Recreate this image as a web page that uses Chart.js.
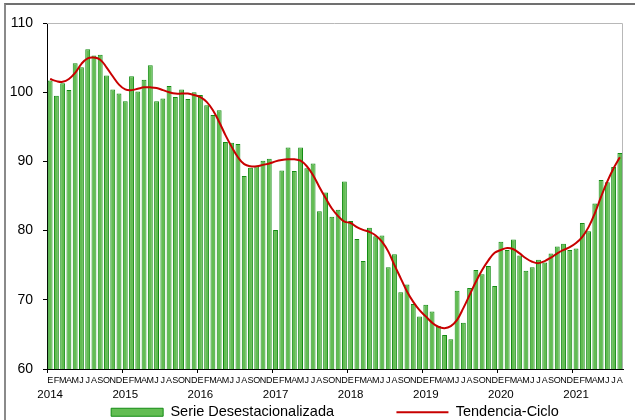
<!DOCTYPE html>
<html><head><meta charset="utf-8">
<script src="https://cdn.jsdelivr.net/npm/chart.js@4"></script>
<style>
html,body{margin:0;padding:0;background:#fff;overflow:hidden;}
#wrap{position:relative;width:635px;height:420px;overflow:hidden;}
#frame{position:absolute;left:4px;top:3px;width:660px;height:440px;border-left:2px solid #8a8a8a;border-top:2px solid #707070;}
canvas{position:absolute;left:0;top:0;}
</style></head><body>
<div id="wrap"><div id="frame"></div><canvas id="c" width="635" height="420"></canvas></div>
<script>
const monthLetters = ['E','F','M','A','M','J','J','A','S','O','N','D'];
const years = ['2014','2015','2016','2017','2018','2019','2020','2021'];
const yTicks = [60, 70, 80, 90, 100, 110];

const serieDesestacionalizada = [
  101.7, 99.5, 101.3, 100.3, 104.2, 103.6, 106.2, 105.3, 105.4, 102.4, 100.4, 99.8,
  98.7, 102.3, 100.1, 101.8, 103.9, 98.7, 99.1, 100.9, 99.3, 100.4, 99.0, 100.0,
  99.6, 98.1, 96.7, 97.4, 92.8, 92.7, 92.5, 87.9, 89.1, 89.3, 90.1, 90.4,
  80.1, 88.7, 92.0, 88.6, 92.0, 89.0, 89.7, 82.8, 85.5, 82.0, 83.0, 87.1,
  81.4, 78.8, 75.6, 80.4, 79.2, 79.3, 74.7, 76.6, 71.1, 72.2, 69.4, 67.6,
  69.3, 68.3, 66.2, 64.9, 64.3, 71.3, 66.7, 71.7, 74.3, 73.7, 74.9, 72.0,
  78.4, 77.2, 78.7, 76.4, 74.2, 74.7, 75.8, 75.4, 76.7, 77.7, 78.1, 77.2,
  77.4, 81.1, 79.9, 83.9, 87.3, 87.0, 89.2, 91.2
];
const tendenciaCiclo = [
  101.9, 101.6, 101.5, 101.9, 102.8, 104.1, 104.9, 105.0, 104.7, 103.6, 102.3, 101.1,
  100.4, 100.3, 100.5, 100.7, 100.7, 100.6, 100.3, 100.0, 99.8, 99.8, 99.8, 99.6,
  99.3, 98.6, 97.4, 95.7, 93.8, 92.1, 90.6, 89.6, 89.3, 89.3, 89.5, 89.7,
  90.0, 90.2, 90.3, 90.3, 90.1, 89.3, 88.0, 86.3, 84.7, 83.2, 82.1, 81.3,
  81.1, 80.5, 80.1, 79.8, 79.3, 78.4, 77.0, 75.0, 73.1, 71.2, 69.7, 68.5,
  67.6, 66.7, 66.1, 65.9, 66.2, 67.1, 68.8, 70.7, 72.6, 74.3, 75.7, 76.8,
  77.2, 77.5, 77.3, 76.7, 76.0, 75.5, 75.3, 75.6, 76.1, 76.7, 77.2, 77.6,
  78.2, 79.1, 80.5, 82.5, 84.9, 87.1, 89.0, 90.6
];

const categories = serieDesestacionalizada.map((v, i) => monthLetters[i % 12]);
const yearLabels = serieDesestacionalizada.map((v, i) => (i % 12 === 0 ? years[i / 12] : ''));

const FONT = "'Liberation Sans', Arial, sans-serif";

const plotBorder = {
  id: 'plotBorder',
  beforeDatasetsDraw(chart) {
    const { ctx, chartArea: a } = chart;
    ctx.save();
    ctx.strokeStyle = '#b8b8b8';
    ctx.lineWidth = 1;
    ctx.beginPath();
    ctx.moveTo(a.left, a.top + 0.5);
    ctx.lineTo(a.right - 0.5, a.top + 0.5);
    ctx.lineTo(a.right - 0.5, a.bottom);
    ctx.stroke();
    ctx.restore();
  }
};

new Chart(document.getElementById('c'), {
  data: {
    labels: categories,
    datasets: [
      {
        type: 'line',
        label: 'Tendencia-Ciclo',
        data: tendenciaCiclo,
        borderColor: '#c80000',
        backgroundColor: '#c80000',
        borderWidth: 2,
        pointRadius: 0,
        tension: 0.4,
        order: 0
      },
      {
        type: 'bar',
        label: 'Serie Desestacionalizada',
        data: serieDesestacionalizada,
        backgroundColor: '#63bd53',
        borderColor: '#148c14',
        borderWidth: 1,
        categoryPercentage: 1.0,
        barPercentage: 0.78,
        order: 1
      }
    ]
  },
  options: {
    responsive: false,
    animation: false,
    layout: { padding: { left: 0, top: 23, right: 12, bottom: 0 } },
    plugins: {
      tooltip: { enabled: false },
      legend: {
        position: 'bottom',
        fullSize: false,
        maxHeight: 17,
        labels: {
          usePointStyle: true,
          pointStyleWidth: 52,
          boxHeight: 8,
          padding: 2,
          color: '#000',
          font: { size: 14.5, family: FONT },
          sort: (a, b) => b.datasetIndex - a.datasetIndex,
          generateLabels(chart) {
            return chart.data.datasets.map((ds, i) => {
              const isBar = ds.type === 'bar';
              return {
                text: isBar ? ds.label + '\u00a0'.repeat(15) : ds.label,
                fillStyle: ds.backgroundColor,
                strokeStyle: ds.borderColor,
                lineWidth: isBar ? 1 : 2,
                pointStyle: isBar ? 'rect' : 'line',
                hidden: false,
                fontColor: '#000',
                datasetIndex: i
              };
            });
          }
        }
      }
    },
    scales: {
      x: {
        type: 'category',
        offset: true,
        grid: {
          offset: true,
          drawOnChartArea: false,
          drawTicks: true,
          tickLength: 4,
          color: (c) => (c.index % 12 === 0 ? '#000' : 'rgba(0,0,0,0)')
        },
        border: { display: true, color: '#000', width: 1 },
        ticks: { autoSkip: false, maxRotation: 0, minRotation: 0, padding: 2, color: '#000', font: { size: 9, family: FONT } },
        afterFit(s) { s.height = 19; }
      },
      x2: {
        type: 'category',
        labels: yearLabels,
        position: 'bottom',
        offset: true,
        grid: { display: false, drawTicks: false, offset: true },
        border: { display: false },
        ticks: { autoSkip: false, maxRotation: 0, minRotation: 0, padding: 0, color: '#000', font: { size: 11.5, family: FONT } },
        afterFit(s) { s.height = 15; }
      },
      y: {
        min: yTicks[0],
        max: yTicks[yTicks.length - 1],
        afterBuildTicks(s) { s.ticks = yTicks.map(v => ({ value: v })); },
        ticks: { padding: 10, color: '#000', font: { size: 14, family: FONT } },
        grid: { drawOnChartArea: false, drawTicks: true, tickLength: 4, color: '#000' },
        border: { display: true, color: '#000', width: 1 },
        afterFit(s) { s.width = 47; }
      }
    }
  },
  plugins: [plotBorder]
});
</script>
</body></html>
